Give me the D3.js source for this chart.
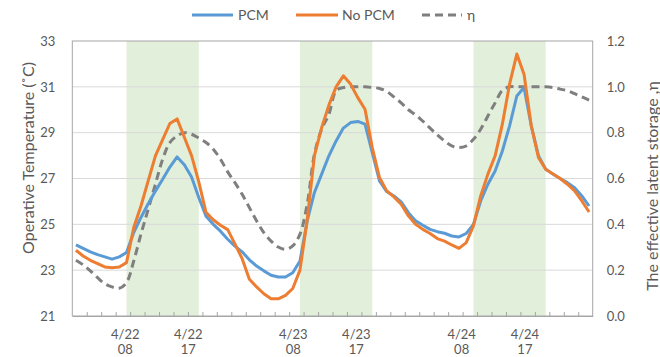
<!DOCTYPE html>
<html>
<head>
<meta charset="utf-8">
<script src="https://cdn.jsdelivr.net/npm/d3@7"></script>
<style>
  body { margin: 0; background: #fff; }
  svg { font-family: Lato, "Open Sans", sans-serif; }
</style>
</head>
<body>
<svg id="vis" width="660" height="357"></svg>
<script>
// hourly samples, 4/22 01:00 .. 4/25 00:00
const hours = d3.range(1, 73);

const pcm = [
  24.1, 23.95, 23.8, 23.68, 23.58, 23.48, 23.58, 23.77, 24.64, 25.3, 25.9, 26.45,
  26.97, 27.5, 27.94, 27.6, 27.07, 26.17, 25.35, 25.0, 24.7, 24.35, 24.05, 23.8,
  23.45, 23.18, 22.97, 22.78, 22.7, 22.7, 22.89, 23.4, 25.15, 26.39, 27.19, 27.99,
  28.64, 29.2, 29.44, 29.49, 29.37, 28.13, 26.9, 26.43, 26.24, 25.98, 25.51, 25.15,
  24.96, 24.78, 24.68, 24.61, 24.49, 24.45, 24.6, 25.0, 26.02, 26.75, 27.33, 28.2,
  29.3, 30.6, 30.97, 29.3, 27.99, 27.4, 27.2, 27.0, 26.82, 26.6, 26.24, 25.8
];

const noPcm = [
  23.87, 23.62, 23.43, 23.29, 23.14, 23.11, 23.14, 23.33, 24.86, 25.8, 26.9, 27.99,
  28.7, 29.4, 29.6, 28.8, 28.0, 26.85, 25.52, 25.2, 24.96, 24.77, 24.15, 23.5,
  22.6, 22.27, 21.97, 21.75, 21.75, 21.9, 22.2, 23.0, 25.2, 28.0, 29.22, 30.2,
  31.0, 31.48, 31.12, 30.53, 30.02, 28.35, 27.04, 26.46, 26.2, 25.88, 25.37, 25.0,
  24.78, 24.6, 24.38, 24.27, 24.1, 23.95, 24.2, 24.93, 26.24, 27.19, 27.99, 29.37,
  31.12, 32.43, 31.55, 29.3, 27.91, 27.4, 27.2, 27.0, 26.75, 26.46, 26.02, 25.54
];

const eta = [
  0.243, 0.223, 0.197, 0.167, 0.141, 0.127, 0.121, 0.146, 0.24, 0.357, 0.466, 0.575,
  0.684, 0.757, 0.786, 0.8, 0.793, 0.776, 0.757, 0.728, 0.684, 0.629, 0.582, 0.531,
  0.473, 0.415, 0.364, 0.327, 0.301, 0.291, 0.306, 0.357, 0.488, 0.706, 0.815, 0.88,
  0.983, 0.997, 1.0, 1.0, 1.0, 0.997, 0.993, 0.98, 0.956, 0.93, 0.9, 0.878,
  0.85, 0.82, 0.79, 0.764, 0.742, 0.735, 0.742, 0.771, 0.815, 0.873, 0.93, 0.985,
  1.0, 1.0, 1.0, 1.0, 1.0, 1.0, 0.997, 0.99, 0.983, 0.97, 0.956, 0.942
];

// daytime shading (hour index)
const shadeStart = [8, 32, 56];
const shadeEnd = [18, 42, 66];

// x labels as placed in the figure
const xLabelPos = [7.83, 16.55, 31.08, 39.8, 54.37, 63.12];
const xLabelTop = ["4/22", "4/22", "4/23", "4/23", "4/24", "4/24"];
const xLabelBottom = ["08", "17", "08", "17", "08", "17"];

const tempTicks = [21, 23, 25, 27, 29, 31, 33];
const etaTicks = [0, 0.2, 0.4, 0.6, 0.8, 1.0, 1.2];

const plotL = 72.3, plotR = 592.7, plotT = 41, plotB = 316;

const svg = d3.select("svg#vis");

const x = d3.scaleLinear().domain([0.5, 72.5]).range([plotL, plotR]);
const y = d3.scaleLinear().domain([21, 33]).range([plotB, plotT]);
const y2 = d3.scaleLinear().domain([0, 1.2]).range([plotB, plotT]);

// shading
svg.append("g").selectAll("rect")
  .data(shadeStart)
  .enter()
  .append("rect")
  .attr("x", d => x(d))
  .attr("width", (d, i) => x(shadeEnd[i]) - x(d))
  .attr("y", plotT)
  .attr("height", plotB - plotT)
  .attr("fill", "#e2efda");

// gridlines
svg.append("g").selectAll("line")
  .data(tempTicks.slice(1, -1))
  .enter()
  .append("line")
  .attr("x1", plotL).attr("x2", plotR)
  .attr("y1", d => y(d)).attr("y2", d => y(d))
  .attr("stroke", "#d9d9d9")
  .attr("stroke-width", 1);

// plot border
svg.append("rect")
  .attr("x", plotL).attr("y", plotT)
  .attr("width", plotR - plotL).attr("height", plotB - plotT)
  .attr("fill", "none")
  .attr("stroke", "#a6a6a6")
  .attr("stroke-width", 1);

// bottom ticks (every 2 hours, between categories, pointing inward)
const xAxis = d3.axisBottom(x)
  .tickValues(d3.range(2.5, 72.5, 2))
  .tickSizeInner(-4)
  .tickSizeOuter(0)
  .tickFormat("");
const gx = svg.append("g").attr("transform", `translate(0,${plotB})`).call(xAxis);
gx.select(".domain").attr("stroke", "#a6a6a6");
gx.selectAll(".tick line").attr("stroke", "#a6a6a6");

// x labels
const xl = svg.append("g").attr("fill", "#595959").attr("font-size", 13).attr("text-anchor", "middle");
xl.selectAll("text.t1").data(xLabelPos).enter().append("text")
  .attr("class", "t1")
  .attr("x", d => x(d)).attr("y", 338.5)
  .text((d, i) => xLabelTop[i]);
xl.selectAll("text.t2").data(xLabelPos).enter().append("text")
  .attr("class", "t2")
  .attr("x", d => x(d)).attr("y", 353.5)
  .text((d, i) => xLabelBottom[i]);

// left axis
const gy = svg.append("g").attr("transform", `translate(${plotL},0)`)
  .call(d3.axisLeft(y).tickValues(tempTicks).tickSize(0).tickPadding(17).tickFormat(d3.format("d")));
gy.select(".domain").remove();
gy.selectAll("text").attr("fill", "#595959").attr("font-size", 13).attr("font-family", "Lato, sans-serif");

// right axis
const gy2 = svg.append("g").attr("transform", `translate(${plotR},0)`)
  .call(d3.axisRight(y2).tickValues(etaTicks).tickSize(0).tickPadding(14).tickFormat(d3.format(".1f")));
gy2.select(".domain").remove();
gy2.selectAll("text").attr("fill", "#595959").attr("font-size", 13).attr("font-family", "Lato, sans-serif");

// axis titles
svg.append("text")
  .attr("transform", "translate(28,158) rotate(-90)")
  .attr("text-anchor", "middle")
  .attr("fill", "#595959")
  .attr("font-size", 16)
  .attr("dy", "0.35em")
  .text("Operative Temperature (\u02DAC)");

svg.append("text")
  .attr("transform", "translate(652,186) rotate(-90)")
  .attr("text-anchor", "middle")
  .attr("fill", "#595959")
  .attr("font-size", 16)
  .attr("dy", "0.35em")
  .text("The effective latent storage ,\u03B7");

// lines
const tempLine = d3.line().x((d, i) => x(hours[i])).y(d => y(d));
const etaLine = d3.line().x((d, i) => x(hours[i])).y(d => y2(d)).curve(d3.curveCatmullRom.alpha(0.5));

svg.append("path")
  .datum(eta)
  .attr("d", etaLine)
  .attr("fill", "none")
  .attr("stroke", "#7f7f7f")
  .attr("stroke-width", 3)
  .attr("stroke-dasharray", "8,5");

svg.append("path")
  .datum(pcm)
  .attr("d", tempLine)
  .attr("fill", "none")
  .attr("stroke", "#5b9bd5")
  .attr("stroke-width", 3)
  .attr("stroke-linejoin", "round");

svg.append("path")
  .datum(noPcm)
  .attr("d", tempLine)
  .attr("fill", "none")
  .attr("stroke", "#ed7d31")
  .attr("stroke-width", 3)
  .attr("stroke-linejoin", "round");

// legend
const legendItems = [
  { label: "PCM", color: "#5b9bd5", dash: null, x0: 192, x1: 233, tx: 238 },
  { label: "No PCM", color: "#ed7d31", dash: null, x0: 296, x1: 338, tx: 342 },
  { label: "\u03B7", color: "#7f7f7f", dash: "8,5", x0: 422, x1: 462, tx: 467 }
];
const lg = svg.append("g");
legendItems.forEach(d => {
  lg.append("line")
    .attr("x1", d.x0).attr("x2", d.x1)
    .attr("y1", 15).attr("y2", 15)
    .attr("stroke", d.color)
    .attr("stroke-width", 3)
    .attr("stroke-dasharray", d.dash);
  lg.append("text")
    .attr("x", d.tx).attr("y", 15)
    .attr("dy", "0.35em")
    .attr("fill", "#595959")
    .attr("font-size", 14)
    .text(d.label);
});
</script>
</body>
</html>
